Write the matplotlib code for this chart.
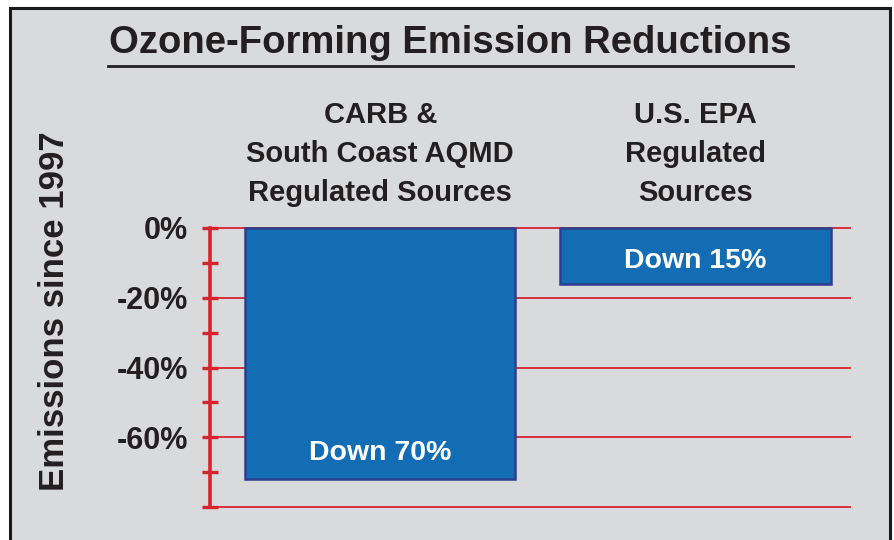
import matplotlib
matplotlib.use("Agg")
import matplotlib.pyplot as plt
from matplotlib.lines import Line2D
from matplotlib.patches import Rectangle
from matplotlib.ticker import MultipleLocator
import matplotlib.transforms as mtransforms

# Daten
categories = ["CARB &\nSouth Coast AQMD\nRegulated Sources", "U.S. EPA\nRegulated\nSources"]
values = [-72, -16]
bar_labels = ["Down 70%", "Down 15%"]
yticks = [0, -20, -40, -60, -80]
ytick_labels = ["0%", "-20%", "-40%", "-60%", ""]

# Farben
bg = "#d9dadc"
red = "#d7232f"
blue = "#136db5"
edge = "#2b3f8e"
dark = "#231f20"

plt.rcParams['font.family'] = ['Liberation Sans', 'DejaVu Sans']

fig = plt.figure(figsize=(8.94, 5.40), dpi=100)
fig.patch.set_facecolor("white")

# Rahmen mit grauem Hintergrund
frame = Rectangle((10 / 894, -0.05), 880 / 894, 1 - 8 / 540 + 0.05,
                  transform=fig.transFigure, facecolor=bg, edgecolor="#1a1a1a",
                  linewidth=2.2, zorder=-1)
fig.patches.append(frame)

ax = fig.add_axes([210 / 894, 1 - 507 / 540, 640 / 894, 279 / 540])
ax.set_zorder(2)
ax.set_facecolor("none")
ax.set_xlim(-0.54, 1.49)
ax.set_ylim(-80, 0)

x = range(len(values))
bars = ax.bar(x, values, width=0.857, color=blue, edgecolor=edge,
              linewidth=1.8, zorder=3, clip_on=False)

# Gitterlinien
for t in yticks:
    ax.axhline(t, color=red, linewidth=1.3, zorder=1, clip_on=False)

for sp in ["top", "right", "bottom"]:
    ax.spines[sp].set_visible(False)
ax.spines["left"].set_color(red)
ax.spines["left"].set_linewidth(2.6)
ax.spines["left"].set_zorder(4)

ax.set_xticks([])
ax.set_yticks(yticks)
ax.set_yticklabels(ytick_labels, fontsize=22, fontweight="bold", color=dark)
ax.yaxis.set_minor_locator(MultipleLocator(10))
ax.tick_params(axis="y", which="both", direction="inout", length=12,
               width=2.4, color=red, pad=10)

# Beschriftung in den Balken
ax.text(0, -64.5, bar_labels[0], ha="center", va="center", color="white",
        fontsize=20.5, fontweight="bold", zorder=5)
ax.text(1, -9.5, bar_labels[1], ha="center", va="center", color="white",
        fontsize=20.5, fontweight="bold", zorder=5)

# Kategorien über den Balken
trans = mtransforms.blended_transform_factory(ax.transData, fig.transFigure)
for i, cat in enumerate(categories):
    ax.text(i, 1 - 154 / 540, cat, transform=trans, ha="center", va="center",
            fontsize=21, fontweight="bold", color=dark, linespacing=1.5)

# Titel mit Unterstrich
fig.text(450 / 894, 1 - 43 / 540, "Ozone-Forming Emission Reductions",
         ha="center", va="center", fontsize=27.5, fontweight="bold",
         color=dark)
fig.add_artist(Line2D([108 / 894, 793 / 894], [1 - 66 / 540, 1 - 66 / 540],
                      transform=fig.transFigure, color=dark, linewidth=2))

# Y-Achsenbeschriftung
fig.text(55 / 894, 1 - 311 / 540, "Emissions since 1997", rotation=90,
         ha="center", va="center", fontsize=25, fontweight="bold", color=dark)

fig.savefig("out.png", dpi=100, facecolor=fig.get_facecolor())
